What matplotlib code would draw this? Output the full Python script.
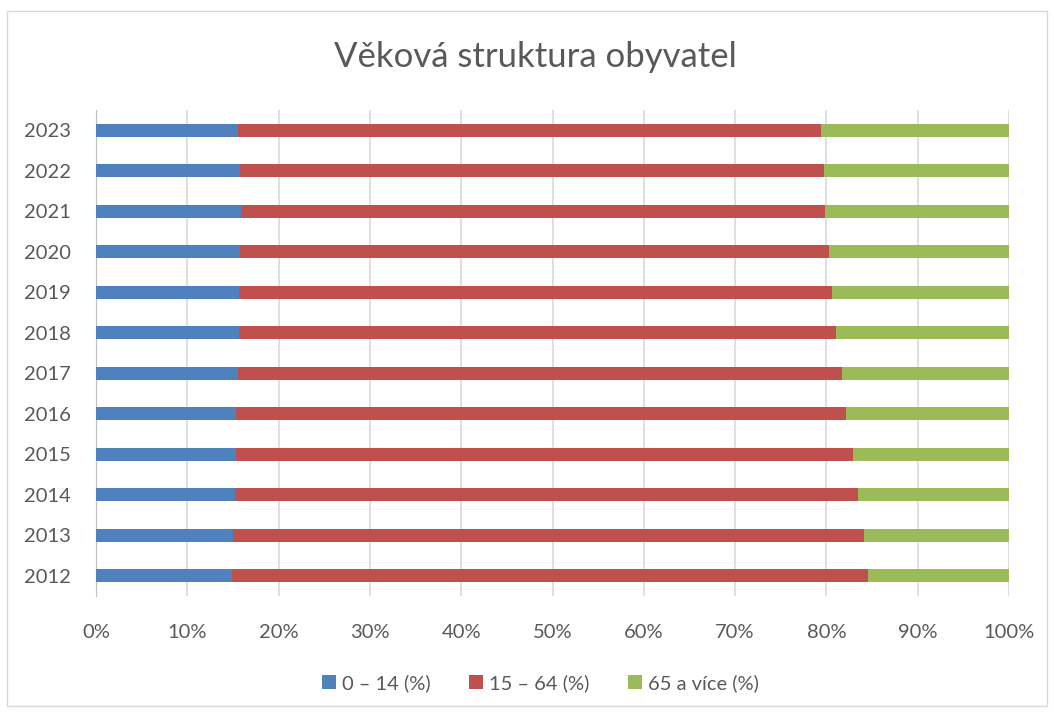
import matplotlib.pyplot as plt
from matplotlib.patches import Rectangle
from matplotlib.ticker import PercentFormatter

plt.rcParams['font.family'] = ['Lato', 'DejaVu Sans']

# data (percent)
roky = ['2012', '2013', '2014', '2015', '2016', '2017',
        '2018', '2019', '2020', '2021', '2022', '2023']
deti = [14.9, 15.0, 15.2, 15.3, 15.3, 15.5, 15.7, 15.7, 15.8, 15.9, 15.8, 15.6]
produktivni = [69.7, 69.1, 68.3, 67.6, 66.9, 66.2, 65.4, 64.9, 64.5, 64.0, 63.9, 63.8]
seniori = [100 - a - b for a, b in zip(deti, produktivni)]

barvy = ['#4F81BD', '#C0504D', '#9BBB59']
popisky = ['0 – 14 (%)', '15 – 64 (%)', '65 a více (%)']
text_barva = '#595959'

fig = plt.figure(figsize=(10.54, 7.13), dpi=100)
ax = fig.add_axes([96 / 1054, 1 - 596 / 713, 913 / 1054, 486 / 713])

y = range(len(roky))
levo = [0] * len(roky)
for hodnoty, barva, popis in zip([deti, produktivni, seniori], barvy, popisky):
    ax.barh(y, hodnoty, left=levo, height=0.31, color=barva, label=popis, zorder=3)
    levo = [l + h for l, h in zip(levo, hodnoty)]

ax.set_xlim(0, 100)
ax.set_ylim(-0.5, len(roky) - 0.5)
ax.set_xticks(range(0, 101, 10))
ax.xaxis.set_major_formatter(PercentFormatter(decimals=0))
ax.set_yticks(list(y))
ax.set_yticklabels(roky)
ax.grid(axis='x', color='#D9D9D9', linewidth=1.2, zorder=0)
for s in ['top', 'right', 'bottom']:
    ax.spines[s].set_visible(False)
ax.spines['left'].set_color('#BFBFBF')
ax.tick_params(axis='both', length=0, labelsize=14.5, colors=text_barva)
ax.tick_params(axis='y', pad=18)
ax.tick_params(axis='x', pad=20)

fig.text(0.508, 1 - 57 / 713, 'Věková struktura obyvatel', ha='center', va='center',
         fontsize=25, color=text_barva)

fig.legend(loc='center', bbox_to_anchor=(0.513, 1 - 683 / 713), ncol=3, frameon=False,
           fontsize=14.5, handlelength=0.7, handleheight=0.7, handletextpad=0.3,
           columnspacing=1.9, labelcolor=text_barva)

fig.patches.append(Rectangle((7 / 1054, 1 - 706 / 713), 1040 / 1054, 695 / 713,
                             transform=fig.transFigure, fill=False,
                             edgecolor='#D9D9D9', linewidth=1))

fig.savefig('out.png', dpi=100)
